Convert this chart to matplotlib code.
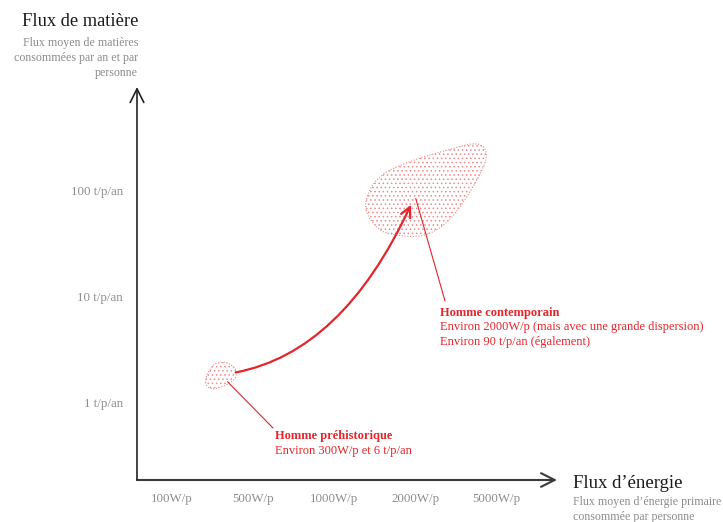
import numpy as np
import matplotlib
matplotlib.use("Agg")
import matplotlib.pyplot as plt
import matplotlib.transforms as mtransforms
from matplotlib.path import Path
from matplotlib.patches import PathPatch

plt.rcParams['font.family'] = ['Liberation Serif', 'DejaVu Serif']
plt.rcParams['hatch.linewidth'] = 0.6

# Axis categories / ticks
energy_labels = ['100W/p', '500W/p', '1000W/p', '2000W/p', '5000W/p']
matter_ticks = [1, 10, 100]
matter_labels = ['1 t/p/an', '10 t/p/an', '100 t/p/an']

# Positions of the two groups (energy index, t/p/an)
prehist_pos = (0.6, 1.85)
contemp_pos = (3.0, 90)

RED = '#e3262c'
BLOB = '#ec8a8a'
GREY = '#8c8c8c'
AXC = '#3a3a3a'

W, H = 723, 522
fig = plt.figure(figsize=(W / 100, H / 100), dpi=100)


def fpx(x, y):
    # pixel position (y from top) -> figure fraction
    return x / W, 1 - y / H


ax = fig.add_axes([137 / W, (H - 480) / H, (557 - 137) / W, (480 - 87) / H])
ax.set_yscale('log')
ax.set_xlim(-0.432, 4.753)
ax.set_ylim(10 ** -0.7264, 10 ** 2.981)
for s in ax.spines.values():
    s.set_visible(False)
ax.set_xticks(range(len(energy_labels)), energy_labels)
ax.set_yticks(matter_ticks, matter_labels)
ax.yaxis.set_minor_locator(matplotlib.ticker.NullLocator())
ax.tick_params(axis='x', length=0, pad=9.5, labelsize=9.3, labelcolor=GREY)
ax.tick_params(axis='y', length=0, pad=10, labelsize=9.3, labelcolor=GREY)

# axis arrows
arr = dict(arrowstyle='->,head_length=0.7,head_width=0.35', lw=1.5, color=AXC,
           shrinkA=0, shrinkB=0, mutation_scale=14)
ax.annotate('', xy=(1, 0), xytext=(0, 0), xycoords='axes fraction', arrowprops=arr)
ax.annotate('', xy=(0, 1), xytext=(0, 0), xycoords='axes fraction',
            arrowprops=dict(arr, lw=1.2, color='#222222'))


def blob(center, shape):
    # closed smooth outline (offsets in pixels) around a data point
    pts = np.array(shape, dtype=float)
    pts[:, 1] *= -1
    n = len(pts)
    verts = [pts[0]]
    codes = [Path.MOVETO]
    for i in range(n):
        p0, p1, p2, p3 = pts[i - 1], pts[i], pts[(i + 1) % n], pts[(i + 2) % n]
        verts += [p1 + (p2 - p0) / 6, p2 - (p3 - p1) / 6, p2]
        codes += [Path.CURVE4] * 3
    cx, cy = ax.transData.transform(center)
    trans = mtransforms.Affine2D().translate(cx, cy)
    patch = PathPatch(Path(verts, codes), transform=trans, facecolor='white',
                      edgecolor=BLOB, hatch='....', lw=0.8, linestyle=(0, (1, 1.5)),
                      zorder=1, clip_on=False)
    ax.add_patch(patch)


blob(contemp_pos, [(-49, 14), (-44, -8), (-28, -24), (0, -36), (33, -46), (58, -52),
                   (69, -48), (71, -37), (63, -18), (47, 8), (30, 28), (10, 39),
                   (-12, 40), (-35, 34)])
blob(prehist_pos, [(-15, 8), (-12, -3), (-5, -11), (6, -12), (15, -5), (14, 4),
                   (4, 11), (-9, 14)])

# evolution arrow
ax.annotate('', xy=contemp_pos, xytext=prehist_pos,
            arrowprops=dict(arrowstyle='->,head_length=0.6,head_width=0.3', color=RED,
                            lw=1.6, shrinkA=11, shrinkB=7, mutation_scale=12,
                            connectionstyle='angle3,angleA=6,angleB=66'), zorder=4)

# pointers to labels
ax.annotate('', xy=contemp_pos, xytext=fpx(445, 301), textcoords='figure fraction',
            arrowprops=dict(arrowstyle='-', color=RED, lw=0.8, shrinkA=0, shrinkB=2),
            zorder=4)
ax.annotate('', xy=prehist_pos, xytext=fpx(273, 428), textcoords='figure fraction',
            arrowprops=dict(arrowstyle='-', color=RED, lw=0.8, shrinkA=0, shrinkB=7),
            zorder=4)

fig.text(*fpx(440, 313), 'Homme contemporain', color=RED, fontsize=9,
         fontweight='bold', va='center')
fig.text(*fpx(440, 327), 'Environ 2000W/p (mais avec une grande dispersion)',
         color=RED, fontsize=9, va='center')
fig.text(*fpx(440, 342), 'Environ 90 t/p/an (également)', color=RED, fontsize=9,
         va='center')
fig.text(*fpx(275, 436), 'Homme préhistorique', color=RED, fontsize=9,
         fontweight='bold', va='center')
fig.text(*fpx(275, 451), 'Environ 300W/p et 6 t/p/an', color=RED, fontsize=9,
         va='center')

# axis titles
fig.text(*fpx(138, 22), 'Flux de matière', fontsize=13.3, color='#1a1a1a',
         ha='right', va='center')
fig.text(*fpx(138, 37), 'Flux moyen de matières\nconsommées par an et par\npersonne',
         fontsize=8.6, color=GREY, ha='right', va='top', multialignment='right',
         linespacing=1.32)
fig.text(*fpx(573, 483), 'Flux d\u2019énergie', fontsize=13.5, color='#1a1a1a',
         ha='left', va='center')
fig.text(*fpx(573, 496), 'Flux moyen d\u2019énergie primaire\nconsommée par personne',
         fontsize=8.6, color=GREY, ha='left', va='top', linespacing=1.3)

fig.savefig('out.png', dpi=100)
